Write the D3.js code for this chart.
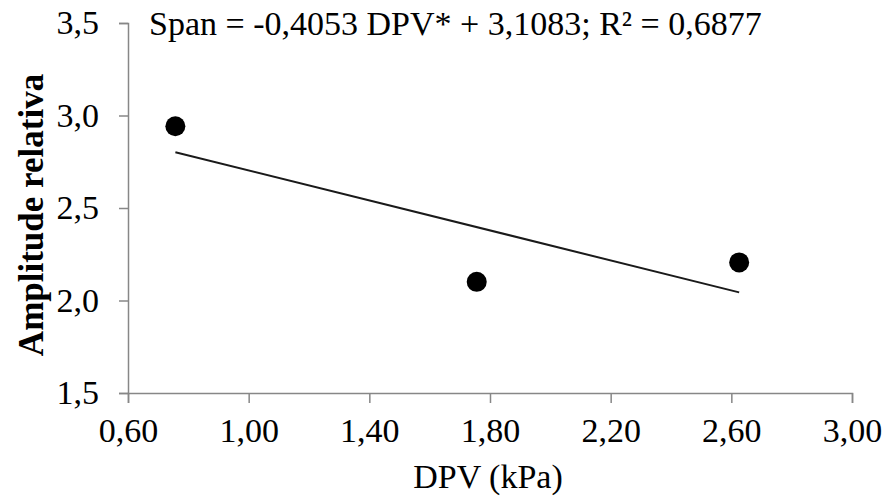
<!DOCTYPE html>
<html>
<head>
<meta charset="utf-8">
<script src="https://cdn.jsdelivr.net/npm/d3@7"></script>
<style>
    html, body { margin: 0; padding: 0; background: #fff; }
    svg { display: block; font-family: "Liberation Serif", "Times New Roman", serif; }
</style>
</head>
<body>
<div id="chart"></div>
<script>
// Pontos observados (DPV em kPa, amplitude relativa)
const dpv = [0.757, 1.756, 2.626];
const amplitude = [2.942, 2.101, 2.206];

// Ajuste linear
const slope = -0.4053;
const intercept = 3.1083;

const xTicks = [0.6, 1.0, 1.4, 1.8, 2.2, 2.6, 3.0];
const yTicks = [1.5, 2.0, 2.5, 3.0, 3.5];

const equationLabel = 'Span = -0,4053 DPV* + 3,1083; R² = 0,6877';
const xTitle = 'DPV (kPa)';
const yTitle = 'Amplitude relativa';

const width = 885;
const height = 497;
const margin = { top: 23, right: 33, bottom: 104, left: 128 };
const fontSize = '34px';

const svg = d3.select('#chart').append('svg')
    .attr('width', width)
    .attr('height', height);

const x = d3.scaleLinear().domain([0.6, 3.0]).range([margin.left, width - margin.right]);
const y = d3.scaleLinear().domain([1.5, 3.5]).range([height - margin.bottom, margin.top]);

const fmt = (d, digits) => d.toFixed(digits).replace('.', ',');

const xAxis = svg.append('g')
    .attr('transform', `translate(0,${y(1.5)})`)
    .call(d3.axisBottom(x).tickValues(xTicks).tickSize(10).tickPadding(15).tickFormat(d => fmt(d, 2)));

const yAxis = svg.append('g')
    .attr('transform', `translate(${x(0.6)},0)`)
    .call(d3.axisLeft(y).tickValues(yTicks).tickSize(9).tickPadding(20).tickFormat(d => fmt(d, 1)));

[xAxis, yAxis].forEach(axis => {
    axis.select('.domain').attr('stroke', '#878787').attr('stroke-width', 1.5);
    axis.selectAll('.tick line').attr('stroke', '#878787').attr('stroke-width', 1.5);
    axis.selectAll('.tick text')
        .attr('fill', '#000')
        .style('font-family', '"Liberation Serif", serif')
        .style('font-size', fontSize);
});

// Linha de tendência entre os extremos observados
const xMin = d3.min(dpv);
const xMax = d3.max(dpv);
svg.append('line')
    .attr('x1', x(xMin))
    .attr('y1', y(slope * xMin + intercept))
    .attr('x2', x(xMax))
    .attr('y2', y(slope * xMax + intercept))
    .attr('stroke', '#1a1a1a')
    .attr('stroke-width', 2);

svg.append('g')
    .selectAll('circle')
    .data(dpv.map((d, i) => ({ x: d, y: amplitude[i] })))
    .join('circle')
    .attr('cx', d => x(d.x))
    .attr('cy', d => y(d.y))
    .attr('r', 10)
    .attr('fill', '#000');

svg.append('text')
    .attr('x', 149)
    .attr('y', 35)
    .style('font-size', fontSize)
    .attr('fill', '#000')
    .text(equationLabel);

svg.append('text')
    .attr('x', 488)
    .attr('y', 488)
    .attr('text-anchor', 'middle')
    .style('font-size', fontSize)
    .attr('fill', '#000')
    .text(xTitle);

svg.append('text')
    .attr('transform', `translate(43,215) rotate(-90)`)
    .attr('text-anchor', 'middle')
    .style('font-size', '35px')
    .style('font-weight', 'bold')
    .attr('fill', '#000')
    .text(yTitle);
</script>
</body>
</html>
